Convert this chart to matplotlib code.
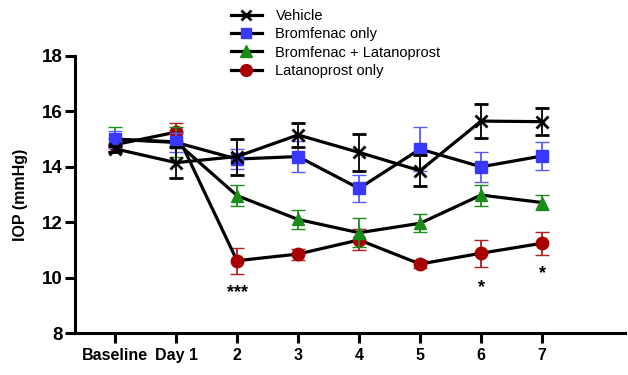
import matplotlib
matplotlib.use('Agg')
import matplotlib.pyplot as plt
from matplotlib.lines import Line2D

plt.rcParams['font.family'] = ['Liberation Sans', 'DejaVu Sans']

# data
days = ['Baseline', 'Day 1', '2', '3', '4', '5', '6', '7']
vehicle = [14.65, 14.15, 14.37, 15.15, 14.52, 13.86, 15.65, 15.63]
vehicle_err = [0.10, 0.55, 0.65, 0.42, 0.68, 0.55, 0.62, 0.48]
bromfenac = [14.99, 14.88, 14.28, 14.37, 13.22, 14.64, 14.00, 14.39]
bromfenac_err = [0.30, 0.35, 0.35, 0.55, 0.50, 0.80, 0.55, 0.50]
combo = [15.00, 14.90, 12.96, 12.10, 11.62, 11.96, 12.98, 12.71]
combo_err = [0.42, 0.55, 0.38, 0.35, 0.52, 0.32, 0.38, 0.27]
latanoprost = [14.80, 15.25, 10.61, 10.85, 11.36, 10.49, 10.88, 11.24]
latanoprost_err = [0.25, 0.32, 0.47, 0.20, 0.38, 0.15, 0.48, 0.41]

# significance marks: (day index, label, y position)
sig_idx = [2, 6, 7]
sig_text = ['***', '*', '*']
sig_y = [9.45, 9.65, 10.15]

x = list(range(len(days)))

fig = plt.figure(figsize=(6.28, 3.75), dpi=100, facecolor='white')
ax = fig.add_axes([75 / 628, 1 - 333 / 375, 550 / 628, 277 / 375])

# (label, values, sem, marker, marker colour, errorbar colour, size, zorder)
series = [
    ('Vehicle', vehicle, vehicle_err, 'x', 'black', 'black', 8, 6),
    ('Bromfenac only', bromfenac, bromfenac_err, 's', '#3838ff', '#5a5aff', 8, 5),
    ('Bromfenac + Latanoprost', combo, combo_err, '^', '#1a8c1a', '#1a8c1a', 8.5, 4),
    ('Latanoprost only', latanoprost, latanoprost_err, 'o', '#a80000', '#b02020', 9, 3),
]

handles = []
for name, y, err, mk, mcol, ecol, ms, z in series:
    mew = 2 if mk == 'x' else 1
    ax.errorbar(x, y, yerr=err, color='black', lw=2.3, marker=mk,
                mfc=mcol, mec=mcol, ms=ms, mew=mew,
                ecolor=ecol, elinewidth=1.3, capsize=5, capthick=1.3,
                zorder=z)
    handles.append(Line2D([], [], color='black', lw=2.3, marker=mk,
                          mfc=mcol, mec=mcol, ms=ms - 0.5, mew=mew, label=name))

for i, t, yy in zip(sig_idx, sig_text, sig_y):
    ax.text(i, yy, t, ha='center', va='center', fontsize=13, fontweight='bold')

ax.set_ylim(8, 18)
ax.set_yticks([8, 10, 12, 14, 16, 18])
ax.set_xlim(-0.656, 8.36)
ax.set_xticks(x)
ax.set_xticklabels(days)
ax.set_ylabel('IOP (mmHg)', fontsize=11.5, fontweight='bold', labelpad=10)

for side in ['top', 'right']:
    ax.spines[side].set_visible(False)
for side in ['left', 'bottom']:
    ax.spines[side].set_linewidth(2.2)
ax.tick_params(axis='both', width=2.2, length=7)
ax.tick_params(axis='y', labelsize=13.5, pad=2)
ax.tick_params(axis='x', labelsize=11.5, pad=4)
for lab in ax.get_xticklabels() + ax.get_yticklabels():
    lab.set_fontweight('bold')

fig.legend(handles=handles, loc='upper left', bbox_to_anchor=(231 / 628, 0.975),
           frameon=False, fontsize=10.5, borderpad=0, borderaxespad=0,
           handlelength=2.1, handletextpad=0.95, labelspacing=0.28)

fig.savefig('out.png', dpi=100, facecolor='white')
